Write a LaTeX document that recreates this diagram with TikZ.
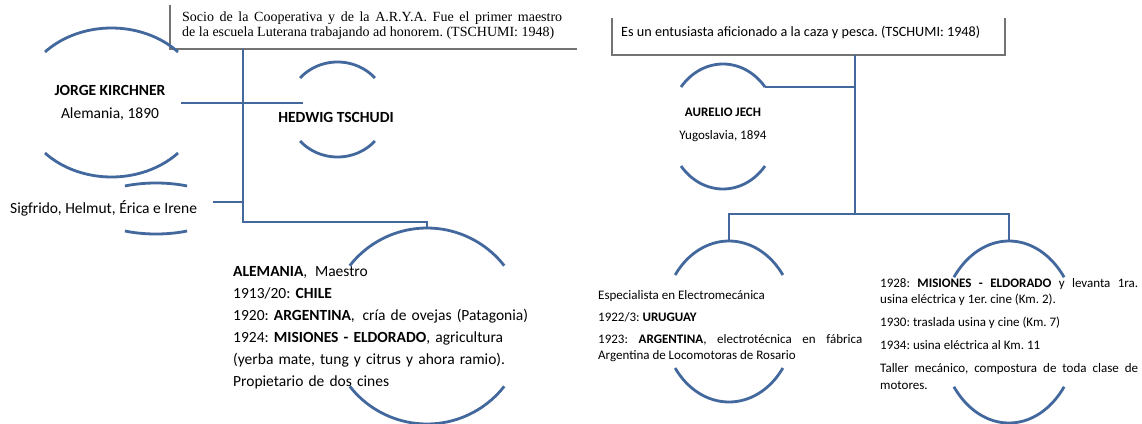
\documentclass[tikz,border=0pt]{standalone}
\usepackage{fontspec}
\setmainfont{Carlito}
\newfontfamily\serifbox{Liberation Serif}
\definecolor{treeblue}{RGB}{66,104,158}
\definecolor{boxgray}{RGB}{115,115,115}
\frenchspacing

\begin{document}
\begin{tikzpicture}[x=1pt, y=-1pt,
  branch/.style={treeblue, line width=2.8pt},
  frameline/.style={boxgray, line width=1.2pt},
  bigtext/.style={inner sep=0pt, font=\fontsize{15.5}{22}\selectfont},
  smalltext/.style={inner sep=0pt, font=\fontsize{13}{16.5}\selectfont}]

  \fill[white] (0,0) rectangle (1142,423);
  \useasboundingbox (0,0) rectangle (1142,423);

  % half-arcs above and below a name: centre x, centre y, x radius, y radius, cut angle
  \def\halves#1#2#3#4#5{%
    \pgfmathsetmacro\ua{180+#5}\pgfmathsetmacro\ub{360-#5}\pgfmathsetmacro\lb{180-#5}%
    \draw[branch] plot[domain=\ua:\ub, samples=40] ({#1+#3*cos(\x)},{#2+#4*sin(\x)});
    \draw[branch] plot[domain=#5:\lb, samples=40] ({#1+#3*cos(\x)},{#2+#4*sin(\x)});}

  % ---------------- left family ----------------
  \draw[frameline] (170,5) -- (170,49) -- (577,49);
  \node[anchor=north west, inner sep=0pt, text width=380pt, align=justify,
        font=\serifbox\fontsize{14}{15.5}\selectfont] (socio) at (182,11.5)
    {Socio de la Cooperativa y de la A.R.Y.A. Fue el primer maestro\linebreak
     de la escuela Luterana trabajando ad honorem. (TSCHUMI: 1948)};

  \halves{111.5}{102.5}{90.5}{74.5}{42.7}
  \halves{337.5}{109.5}{50}{47.5}{41.5}
  \halves{156}{208.5}{66}{25.5}{61.9}
  \halves{427}{326}{98}{98}{38}

  \node[bigtext, align=center, font=\fontsize{15.5}{23}\selectfont] (kirchner) at (110,103)
    {\textbf{JORGE KIRCHNER}\\Alemania, 1890};
  \node[bigtext] (tschudi) at (336,117) {\textbf{HEDWIG TSCHUDI}};
  \node[bigtext, anchor=west] (children) at (10,208) {Sigfrido, Helmut, Érica e Irene};
  \node[bigtext, anchor=north west, text width=310pt, align=left] (kirchnerlife) at (233,266)
    {\textbf{ALEMANIA},\enspace Maestro\\
     1913/20: \textbf{CHILE}\\
     1920: \textbf{ARGENTINA},\enspace cría de ovejas (Patagonia)\\
     1924: \textbf{MISIONES - ELDORADO}, agricultura\\
     (yerba mate, tung y citrus y ahora ramio).\\
     Propietario de dos cines};

  \coordinate (socioFoot) at (243,49);
  \coordinate (famBend) at (243,222);
  \coordinate (kirchHand) at (181,103);
  \coordinate (tschudiHand) at (303,103);
  \coordinate (childHand) at (213,202);
  \coordinate (lifeTop) at (427,228);
  \draw[branch] (kirchHand) -- (tschudiHand);
  \draw[branch] (socioFoot) -- (famBend) -| (lifeTop);
  \draw[branch] (childHand) -- (childHand -| socioFoot);

  % ---------------- right family ----------------
  \draw[frameline] (612,18) -- (612,55) -- (1005,55) -- (1005,18);
  \node[smalltext, anchor=west, font=\fontsize{14.2}{17}\selectfont] (hobby) at (621,32)
    {Es un entusiasta aficionado a la caza y pesca. (TSCHUMI: 1948)};

  \halves{723}{126.5}{54.2}{62.5}{39.2}
  \halves{729}{321.5}{66}{80.5}{35.3}
  \halves{1009}{332}{69}{91}{37}

  \node[smalltext, align=center, font=\fontsize{13}{23}\selectfont] (jech) at (723,125)
    {\textbf{AURELIO JECH}\\Yugoslavia, 1894};
  \node[smalltext, anchor=north west, text width=264pt, align=justify] (uruguay) at (598,290)
    {\setlength\parskip{5.5pt}Especialista en Electromecánica\par
     1922/3: \textbf{URUGUAY}\par
     1923: \textbf{ARGENTINA}, electrotécnica en fábrica\linebreak
     Argentina de Locomotoras de Rosario};
  \node[smalltext, anchor=north west, text width=258pt, align=justify] (eldorado) at (880,278)
    {\setlength\parskip{6.5pt}1928: \textbf{MISIONES - ELDORADO} y levanta 1ra.\linebreak
     usina eléctrica y 1er. cine (Km. 2).\par
     1930: traslada usina y cine (Km. 7)\par
     1934: usina eléctrica al Km. 11\par
     Taller mecánico, compostura de toda clase de\linebreak
     motores.};

  \coordinate (hobbyFoot) at (855,55);
  \coordinate (jechHand) at (765,87);
  \coordinate (kidsBar) at (855,214);
  \coordinate (leftKid) at (729,241);
  \coordinate (rightKid) at (1009,241);
  \draw[branch] (hobbyFoot) -- (kidsBar);
  \draw[branch] (jechHand) -- (jechHand -| hobbyFoot);
  \draw[branch] (leftKid) |- (kidsBar) -| (rightKid);

\end{tikzpicture}
\end{document}
